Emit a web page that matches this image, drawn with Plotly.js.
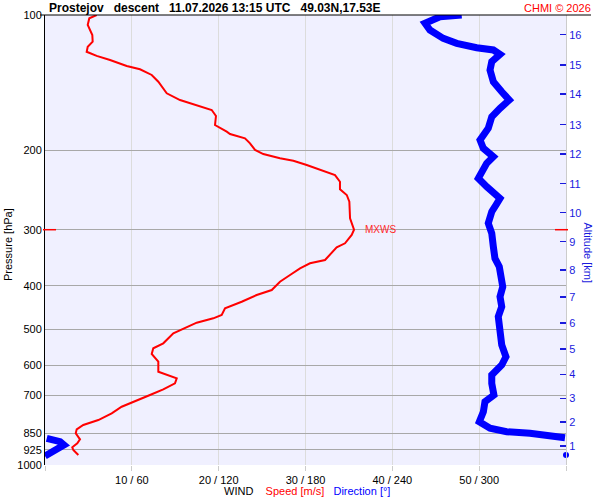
<!DOCTYPE html>
<html><head><meta charset="utf-8">
<script src="https://cdn.plot.ly/plotly-3.0.1.min.js"></script>
<style>html,body{margin:0;padding:0;background:#fff}#chart{width:600px;height:500px}</style>
</head><body><div id="chart"></div>
<script>
// Wind speed profile (pressure hPa, speed m/s)
const speedP = [100, 101.7, 105.2, 108.0, 110.8, 114.6, 117.6, 120.7, 123.3, 125.9, 129.8, 132.0, 135.9, 140.7, 149.3, 154.5, 158.5, 162.6, 167.7, 175.6, 181.7, 183.9, 187.9, 192.8, 199.5, 203.7, 208.2, 210.8, 215.4, 221.0, 226.8, 234.7, 244.0, 251.2, 259.9, 283.0, 292.9, 300, 308.2, 321.6, 328.3, 341.5, 350.3, 356.3, 365.5, 378.3, 391.5, 408.5, 419.0, 433.7, 448.5, 464.2, 472.1, 482.8, 496.9, 509.7, 536.5, 550.4, 566.7, 589.5, 620.4, 627.8, 641.7, 658.4, 678.9, 699.0, 723.4, 742.2, 767.7, 794.4, 815.0, 833.0, 850.3, 876.8, 895.0, 913.5, 926.2, 950.2];
const speedMs = [5.95, 5.10, 4.92, 5.18, 5.45, 5.49, 4.92, 4.80, 5.95, 7.49, 9.41, 10.94, 12.29, 13.05, 14.02, 15.55, 17.47, 19.20, 19.69, 19.58, 20.93, 21.31, 23.03, 23.61, 24.19, 25.14, 27.06, 28.60, 30.14, 31.67, 33.40, 33.97, 33.97, 34.75, 35.05, 35.13, 35.44, 35.59, 35.32, 34.55, 33.59, 32.82, 32.25, 30.52, 29.37, 28.22, 27.06, 26.11, 24.38, 22.65, 20.73, 20.35, 19.38, 17.47, 15.93, 14.78, 13.62, 12.47, 12.29, 13.05, 13.05, 13.82, 15.17, 14.97, 13.62, 12.09, 10.17, 8.83, 7.68, 6.14, 4.41, 3.65, 3.54, 4.03, 3.72, 3.14, 3.26, 3.84];

// Wind direction profile (pressure hPa, direction deg)
const dirP = [100, 100.9, 104.3, 108.0, 112.7, 115.6, 118.2, 119.6, 122.3, 127.0, 132.5, 140.7, 148.1, 154.5, 161.2, 168.3, 178.5, 189.6, 197.8, 206.5, 213.6, 221.0, 230.6, 240.7, 255.5, 266.7, 273.6, 290.3, 305.6, 327.3, 347.3, 362.5, 384.7, 401.6, 422.7, 444.9, 468.2, 501.2, 541.2, 574.6, 599.6, 631.0, 658.4, 699.0, 723.4, 761.4, 801.3, 828.8, 843.3, 850.3, 862.2, 869.7];
const dirDeg = [287.9, 272.9, 262.6, 266.0, 275.2, 284.5, 298.3, 309.8, 314.4, 308.7, 307.5, 309.8, 315.6, 320.8, 314.4, 308.7, 306.3, 300.6, 302.9, 309.8, 305.2, 302.9, 299.4, 305.2, 314.4, 310.9, 308.7, 306.3, 308.7, 309.8, 310.9, 313.9, 315.1, 316.3, 314.4, 315.6, 313.2, 314.9, 315.6, 318.5, 315.6, 308.7, 308.7, 310.2, 304.0, 302.9, 300.1, 307.5, 319.0, 335.1, 351.2, 359.3];
const dirLowP = [872.4, 887.7, 902.8, 922.9, 942.0, 955.1];
const dirLowDeg = [1.2, 10.4, 13.1, 8.1, 2.3, 0];
const sfcP = [950];
const sfcDir = [360];

// Axis ticks
const pressureTicks = [100, 200, 300, 400, 500, 600, 700, 850, 925, 1000];
const windTicks = [0, 10, 20, 30, 40, 50, 60];
const windTickText = ['', '10 / 60', '20 / 120', '30 / 180', '40 / 240', '50 / 300', ''];
const altKm = [1, 2, 3, 4, 5, 6, 7, 8, 9, 10, 11, 12, 13, 14, 15, 16];
const altP = [907.3, 802.4, 710.9, 628.7, 552.5, 483.5, 423.3, 368.6, 319.0, 275.0, 237.1, 203.6, 175.3, 149.8, 129.1, 110.6];

const titleText = 'Prostejov\u00a0\u00a0 descent\u00a0\u00a0 11.07.2026 13:15 UTC\u00a0\u00a0 49.03N,17.53E';

// max wind level
let iMax = 0;
speedMs.forEach((v, i) => { if (v > speedMs[iMax]) iMax = i; });
const mxwsP = speedP[iMax];
const mxwsPaperY = 3 - Math.log10(mxwsP);

const font = 'Liberation Sans, Arial, sans-serif';

const traces = [
  // transparent carrier so the altitude axis gets drawn
  {x: speedMs, y: speedP, xaxis: 'x', yaxis: 'y2', mode: 'lines',
   line: {color: 'rgba(0,0,0,0)', width: 1}, hoverinfo: 'skip'},
  {x: dirDeg, y: dirP, xaxis: 'x2', yaxis: 'y', mode: 'lines',
   line: {color: '#0000ff', width: 7}, hoverinfo: 'skip'},
  {x: dirLowDeg, y: dirLowP, xaxis: 'x2', yaxis: 'y', mode: 'lines',
   line: {color: '#0000ff', width: 7}, hoverinfo: 'skip'},
  {x: sfcDir, y: sfcP, xaxis: 'x2', yaxis: 'y', mode: 'markers', cliponaxis: false,
   marker: {color: '#0000ff', size: 6}, hoverinfo: 'skip'},
  {x: speedMs, y: speedP, xaxis: 'x', yaxis: 'y', mode: 'lines',
   line: {color: '#ff0000', width: 2}, hoverinfo: 'skip'}
];

const layout = {
  width: 600, height: 500,
  margin: {l: 45, r: 34, t: 15, b: 35},
  paper_bgcolor: '#ffffff',
  plot_bgcolor: '#f0f0ff',
  showlegend: false,
  font: {family: font, size: 11, color: '#000'},
  title: {text: '<b>' + titleText + '</b>', x: 49/600, xanchor: 'left', xref: 'container',
          y: 1 - 8/500, yanchor: 'middle', yref: 'container',
          font: {family: font, size: 12, color: '#000'}},
  xaxis: {range: [0, 60], tickmode: 'array', tickvals: windTicks, ticktext: windTickText,
          showgrid: true, gridcolor: '#dcdcdc', gridwidth: 1, zeroline: false, showline: false,
          ticks: 'outside', ticklen: 5, tickcolor: '#cccccc', tickfont: {size: 11, color: '#000'}},
  xaxis2: {range: [0, 360], overlaying: 'x', visible: false},
  yaxis: {type: 'log', range: [3, 2], tickmode: 'array', tickvals: pressureTicks,
          ticktext: pressureTicks.map(String), showgrid: true, gridcolor: '#a8a8a8', gridwidth: 1,
          zeroline: false, showline: true, linecolor: '#000', linewidth: 1, ticks: '',
          tickfont: {size: 11, color: '#000'}},
  yaxis2: {type: 'log', range: [3, 2], overlaying: 'y', side: 'right', anchor: 'x',
           tickmode: 'array', tickvals: altP, ticktext: altKm.map(String),
           ticks: 'inside', ticklen: 6, tickwidth: 1.5, tickcolor: '#1a1add',
           showgrid: false, zeroline: false, showline: true, linecolor: '#cccccc', linewidth: 1,
           tickfont: {size: 11, color: '#1a1add'}},
  shapes: [
    {type: 'line', xref: 'paper', yref: 'paper', x0: -5/521, x1: 546/521, y0: 1, y1: 1,
     line: {color: '#000', width: 1}},
    {type: 'line', xref: 'paper', yref: 'paper', x0: -2/521, x1: 11/521, y0: mxwsPaperY, y1: mxwsPaperY,
     line: {color: '#ff0000', width: 1.5}},
    {type: 'line', xref: 'paper', yref: 'paper', x0: 510/521, x1: 523/521, y0: mxwsPaperY, y1: mxwsPaperY,
     line: {color: '#ff0000', width: 1.5}}
  ],
  annotations: [
    {text: 'CHMI © 2026', xref: 'paper', yref: 'paper', x: 548/521, y: 1 + 7/450,
     xanchor: 'right', yanchor: 'middle', showarrow: false, font: {size: 11, color: '#ff0000'}},
    {text: 'MXWS', xref: 'x', yref: 'paper', x: speedMs[iMax], y: mxwsPaperY, xshift: 9,
     xanchor: 'left', yanchor: 'middle', showarrow: false, font: {size: 10, color: '#ff2a2a'}},
    {text: 'Pressure [hPa]', xref: 'paper', yref: 'paper', x: -37/521, y: 220/450,
     xanchor: 'center', yanchor: 'middle', textangle: -90, showarrow: false, font: {size: 11, color: '#000'}},
    {text: 'Altitude [km]', xref: 'paper', yref: 'paper', x: 543/521, y: 212.5/450,
     xanchor: 'center', yanchor: 'middle', textangle: 90, showarrow: false, font: {size: 11, color: '#1a1add'}},
    {text: '<span style="color:#000">WIND</span>\u00a0\u00a0\u00a0 <span style="color:#ff0000">Speed [m/s]</span>\u00a0\u00a0 <span style="color:#0000ff">Direction [°]</span>',
     xref: 'paper', yref: 'paper', x: 261.5/521, y: -26/450, xanchor: 'center', yanchor: 'middle',
     showarrow: false, font: {size: 11}}
  ]
};

Plotly.newPlot('chart', traces, layout, {displayModeBar: false, staticPlot: true});
</script>
</body></html>
